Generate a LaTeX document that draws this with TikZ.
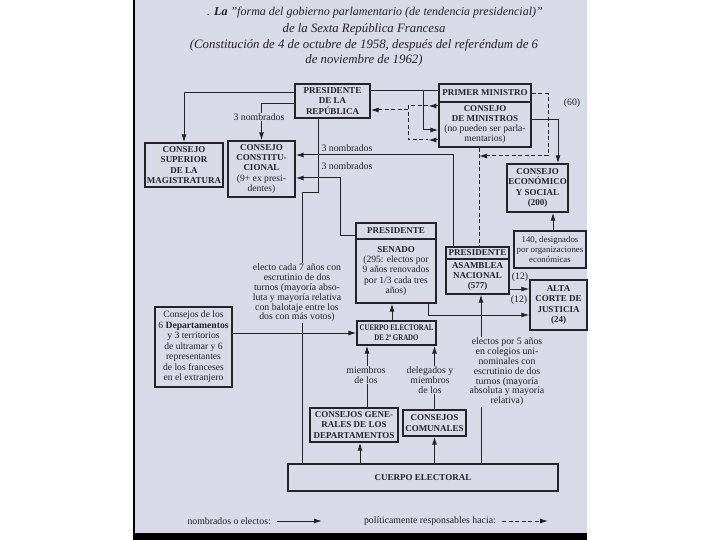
\documentclass[tikz,border=0pt]{standalone}
\usepackage{fontspec}
\setmainfont{Liberation Serif}
\usepackage{graphicx}
\usepackage{tikz}
\usetikzlibrary{arrows.meta}
\definecolor{pagina}{RGB}{217,218,231}
\definecolor{tinta}{RGB}{34,34,40}
\newcommand{\fina}{\fontsize{9.6}{10.3}\selectfont\mdseries}
\newcommand{\estrecho}[1]{\scalebox{0.8}[1]{#1}}
\tikzset{
  caja/.style={draw=tinta,line width=1.3pt,inner sep=0.5pt,align=center,text=tinta,font=\fontsize{9}{10.3}\selectfont\bfseries},
  cajafina/.style={caja,font=\fontsize{9.6}{10.5}\selectfont},
  linea/.style={draw=tinta,line width=1pt},
  flecha/.style={linea,-{Latex[length=8pt,width=5pt]}},
  raya/.style={linea,dash pattern=on 4pt off 2.5pt},
  resp/.style={raya,-{Latex[length=8pt,width=5pt]}},
  etiq/.style={fill=pagina,inner sep=1pt,align=center,text=tinta,font=\fontsize{9.8}{9.8}\selectfont},
  titulo/.style={align=center,inner sep=0pt,text=tinta,font=\fontsize{12}{15.5}\selectfont\itshape},
}
\begin{document}
\begin{tikzpicture}[x=1pt,y=-1pt]
        \useasboundingbox(0, 0)rectangle(720, 540);
        \fill[pagina](135, 0)rectangle(587, 533);
        \fill[black](133, 0)rectangle(135, 533);
        \fill[black](133, 533)rectangle(587, 540);
        % titulo
        \node[titulo](t1)at(375, 13){. \textbf{La} "forma del gobierno parlamentario (de tendencia presidencial)"};
        \node[titulo,font=\fontsize{12.8}{15.5}\selectfont\itshape](t2)at(364, 45){de la Sexta República Francesa\\(Constitución de 4 de octubre de 1958, después del referéndum de 6\\de noviembre de 1962)};
        % organos
        \node[caja,minimum width=75,minimum height=34](pr)at(332.5, 101){PRESIDENTE\\DE LA\\REPÚBLICA};
        \node[caja,minimum width=78,minimum height=44](csm)at(184, 165){CONSEJO\\SUPERIOR\\DE LA\\MAGISTRATURA};
        \node[caja,minimum width=67,minimum height=56](cc)at(261.5, 169){CONSEJO\\CONSTITU-\\CIONAL\\\fina(9+ ex presi-\\\fina dentes)};
        \node[caja,minimum width=92,minimum height=18](pm)at(485, 93){PRIMER MINISTRO};
        \node[caja,minimum width=92,minimum height=45](cm)at(485, 124.5){CONSEJO\\DE MINISTROS\\\fina(no pueden ser parla-\\\fina mentarios)};
        \node[caja,minimum width=61,minimum height=48](ces)at(537.5, 188){CONSEJO\\ECONÓMICO\\Y SOCIAL\\(200)};
        \node[cajafina,minimum width=72,minimum height=37,font=\fontsize{8.8}{10}\selectfont](d140)at(550, 249.5){140, designados\\por organizaciones\\económicas};
        \node[caja,minimum width=80,minimum height=16](senh)at(396, 231){PRESIDENTE};
        \node[caja,minimum width=80,minimum height=64](sen)at(396, 271){SENADO\\\fina(295: electos por\\\fina 9 años renovados\\\fina por 1/3 cada tres\\\fina años)};
        \node[caja,minimum width=63,minimum height=12](anh)at(477.5, 253){PRESIDENTE};
        \node[caja,minimum width=63,minimum height=35](an)at(477.5, 276.5){ASAMBLEA\\NACIONAL\\(577)};
        \node[caja,minimum width=57,minimum height=50](acj)at(558.5, 305){ALTA\\CORTE DE\\JUSTICIA\\(24)};
        \node[cajafina,minimum width=77,minimum height=80](cdep)at(193.5, 347){Consejos de los\\6 \textbf{Departamentos}\\y 3 territorios\\de ultramar y 6\\representantes\\de los franceses\\en el extranjero};
        \node[caja,minimum width=79,minimum height=24,font=\fontsize{8.6}{10}\selectfont\bfseries](ce2)at(396.5, 333){\estrecho{CUERPO ELECTORAL}\\\estrecho{DE 2ª GRADO}};
        \node[caja,minimum width=88,minimum height=34](cgd)at(354, 425){CONSEJOS GENE-\\RALES DE LOS\\DEPARTAMENTOS};
        \node[caja,minimum width=63,minimum height=26](ccom)at(434.5, 423){CONSEJOS\\COMUNALES};
        \node[caja,minimum width=270,minimum height=27](ce)at(423, 477.5){CUERPO ELECTORAL};
        % nombramientos
        \draw[flecha](pr.west |- 0, 93) -| (csm.north);
        \draw[flecha](pr.west |- 0, 104) -| (cc.north);
        \node[etiq](n1)at(259, 117){3 nombrados};
        \draw[linea](pr.east |- 0, 91) -- (pm.west |- 0, 91);
        \draw[flecha](423, 91) |- (cm.west |- 0, 130);
        \draw[flecha](cm.east |- 0, 120) -| (ces.north -| 558, 0);
        \node[etiq](s60)at(572, 103){(60)};
        \draw[flecha](anh.north -| 453, 0) |- (cc.east |- 0, 155);
        \draw[flecha](senh.west |- 0, 235) -| (340, 178) -- (cc.east |- 0, 178);
        \node[etiq](n2)at(347, 148){3 nombrados};
        \node[etiq](n3)at(347, 166){3 nombrados};
        \draw[flecha](d140.north -| 553, 0) -- (ces.south -| 553, 0);
        % presidente
        \draw[linea](ce.north -| 302, 0) -- (302, 193) -- (318, 193) -- (pr.south -| 318, 0);
        \node[etiq](e7)at(297, 293){electo cada 7 años con\\escrutinio de dos\\turnos (mayoría abso-\\luta y mayoría relativa\\con balotaje entre los\\dos con más votos)};
        % parlamento
        \draw[flecha](ce2.north -| 392, 0) -- (sen.south -| 392, 0);
        \draw[flecha](sen.south -| 428, 0) |- (acj.west |- 0, 315);
        \draw[flecha](an.east |- 0, 289) -- (acj.west |- 0, 289);
        \node[etiq](d1)at(520, 277){(12)};
        \node[etiq](d2)at(519, 300){(12)};
        \draw[flecha](cdep.east |- 0, 333) -- (ce2.west);
        \draw[flecha](cgd.north -| 367, 0) -- (ce2.south -| 367, 0);
        \node[etiq](m1)at(366, 375){miembros\\de los};
        \draw[flecha](ccom.north) -- (ce2.south -| ccom.north);
        \node[etiq](m2)at(430, 380){delegados y\\miembros\\de los};
        \draw[flecha](ce.north -| 360, 0) -- (cgd.south -| 360, 0);
        \draw[flecha](ce.north -| ccom.south) -- (ccom.south);
        \draw[flecha](ce.north -| 481, 0) -- (an.south -| 481, 0);
        \node[etiq](e5)at(507, 372){electos por 5 años\\en colegios uni-\\nominales con\\escrutinio de dos\\turnos (mayoría\\absoluta y mayoría\\relativa)};
        % responsabilidad
        \draw[resp](cm.west |- 0, 106) -- ++(-10, 0);
        \draw[resp](cm.west |- 0, 140) -- ++(-10, 0);
        \draw[raya](428, 106) -- (408, 106) -- (408, 140) -- (428, 140);
        \draw[resp](408, 110) -- (pr.east |- 0, 110);
        \coordinate(rn)at(479, 156);
        \draw[resp](pm.east |- 0, 94) -| (548, 156) -- (rn);
        \draw[raya](cm.south -| rn) -- (anh.north -| rn);
        % leyenda
        \node[etiq,anchor=east](ley1)at(272, 521){nombrados o electos:};
        \coordinate(a1)at(277, 521);
        \coordinate(a2)at(322, 521);
        \draw[flecha](a1) -- (a2);
        \node[etiq,anchor=east](ley2)at(497, 521){políticamente responsables hacia:};
        \coordinate(b1)at(502, 521);
        \coordinate(b2)at(548, 521);
        \draw[resp](b1) -- (b2);
    \end{tikzpicture}
\end{document}
